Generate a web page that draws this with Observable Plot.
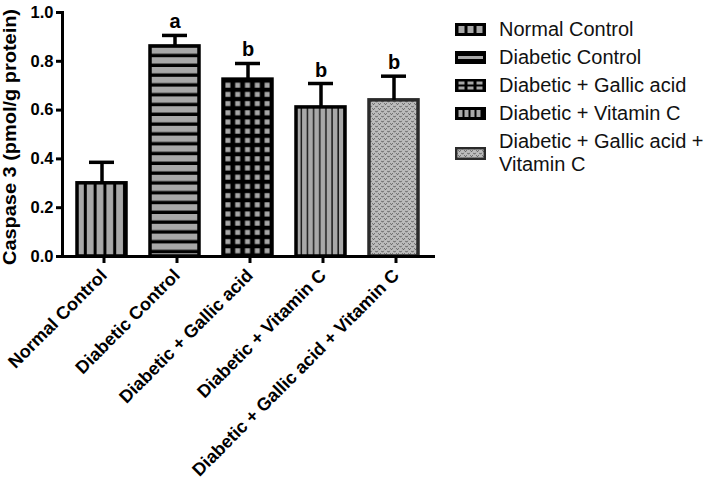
<!DOCTYPE html>
<html><head><meta charset="utf-8">
<script src="https://cdn.jsdelivr.net/npm/d3@7"></script>
<script src="https://cdn.jsdelivr.net/npm/@observablehq/plot@0.6"></script>
<style>
body{margin:0;background:#fff;font-family:"Liberation Sans",Arial,sans-serif;}
#wrap{position:relative;width:709px;height:484px;overflow:hidden;}
#chart{position:absolute;left:0;top:0;}
#legend{position:absolute;left:455px;top:15px;}
.row{display:flex;align-items:center;min-height:28px;}
.row.multi{margin-top:3px;}
.row svg{flex:none;margin-right:13px;}
.row span{font-size:20px;line-height:23px;color:#111;white-space:nowrap;}
</style></head><body>
<div id="wrap"><div id="chart"></div><div id="legend"></div></div>
<script>
const groups = ["Normal Control", "Diabetic Control", "Diabetic + Gallic acid", "Diabetic + Vitamin C", "Diabetic + Gallic acid + Vitamin C"];
const legendLabels = ["Normal Control", "Diabetic Control", "Diabetic + Gallic acid", "Diabetic + Vitamin C", "Diabetic + Gallic acid +<br>Vitamin C"];
const means = [0.300, 0.861, 0.725, 0.611, 0.640];
const errors = [0.086, 0.045, 0.066, 0.098, 0.099];
const letters = ["", "a", "b", "b", "b"];
const yTicks = [0, 0.2, 0.4, 0.6, 0.8, 1.0];
const yLabel = "Caspase 3 (pmol/g protein)";
const patternIds = ["pNC", "pDC", "pGA", "pVC", "pGV"];
const strokes = ["#000", "#000", "#000", "#000", "#2a2a2a"];

const rows = groups.map((g, i) => ({
  group: g, mean: means[i], top: means[i] + errors[i], letter: letters[i],
  fill: `url(#${patternIds[i]})`, stroke: strokes[i]
}));

const font = "'Liberation Sans', Arial, sans-serif";
const plot = Plot.plot({
  width: 440, height: 484,
  marginLeft: 62, marginRight: 7, marginTop: 12, marginBottom: 228,
  style: {fontFamily: font, background: "transparent", color: "#000"},
  x: {domain: groups, paddingInner: 0.329, paddingOuter: 0.18, label: null},
  y: {domain: [0, 1], label: null},
  color: {type: "identity"},
  marks: [
    Plot.barY(rows, {x: "group", y: "mean", fill: "fill", stroke: "stroke", strokeWidth: 3.5}),
    Plot.ruleX(rows, {x: "group", y1: "mean", y2: "top", stroke: "#000", strokeWidth: 3.5}),
    Plot.tickY(rows, {x: "group", y: "top", stroke: "#000", strokeWidth: 3.5, insetLeft: 12, insetRight: 12}),
    Plot.text(rows, {x: "group", y: "top", text: "letter", dy: -7, lineAnchor: "bottom", fontSize: 20, fontWeight: "bold", fill: "#000"}),
    Plot.axisY({ticks: yTicks, tickFormat: d3.format(".1f"), tickSize: 6, tickPadding: 3, strokeWidth: 3, fontSize: 16.5, fontWeight: "bold", label: null}),
    Plot.axisX({tickSize: 7, tickRotate: -45, tickPadding: 9, dx: 2, strokeWidth: 3, fontSize: 18, fontWeight: "bold", label: null}),
    Plot.frame({anchor: "left", strokeWidth: 3}),
    Plot.frame({anchor: "bottom", strokeWidth: 3})
  ]
});
document.getElementById("chart").appendChild(plot);

// patterns aligned to bars via the plot's scales
const xs = plot.scale("x"), ys = plot.scale("y");
const bw = xs.bandwidth;
const svg = d3.select(plot);
const defs = svg.insert("defs", ":first-child");
const gray = "#a8a8a8";

// Normal Control: vertical stripes
{
  const x = xs.apply(groups[0]), w = bw / 5;
  const p = defs.append("pattern").attr("id", "pNC").attr("patternUnits", "userSpaceOnUse")
    .attr("x", x).attr("y", 0).attr("width", w).attr("height", 10);
  p.append("rect").attr("width", w).attr("height", 10).attr("fill", gray);
  p.append("rect").attr("x", w - 3).attr("width", 3).attr("height", 10).attr("fill", "#000");
}
// Diabetic Control: horizontal stripes
{
  const x = xs.apply(groups[1]), h = 9.8;
  const p = defs.append("pattern").attr("id", "pDC").attr("patternUnits", "userSpaceOnUse")
    .attr("x", x).attr("y", ys.apply(means[1]) + 1.5).attr("width", 10).attr("height", h);
  p.append("rect").attr("width", 10).attr("height", h).attr("fill", gray);
  p.append("rect").attr("y", 6.4).attr("width", 10).attr("height", 3.4).attr("fill", "#000");
}
// Gallic acid: black grid with gray squares
{
  const x = xs.apply(groups[2]), w = bw / 5, h = 9.2;
  const p = defs.append("pattern").attr("id", "pGA").attr("patternUnits", "userSpaceOnUse")
    .attr("x", x).attr("y", ys.apply(means[2]) + 1.5).attr("width", w).attr("height", h);
  p.append("rect").attr("width", w).attr("height", h).attr("fill", "#000");
  p.append("rect").attr("x", (w - 5) / 2).attr("y", (h - 5) / 2).attr("width", 5).attr("height", 5).attr("fill", gray);
}
// Vitamin C: thin vertical lines
{
  const x = xs.apply(groups[3]), w = bw / 8;
  const p = defs.append("pattern").attr("id", "pVC").attr("patternUnits", "userSpaceOnUse")
    .attr("x", x).attr("y", 0).attr("width", w).attr("height", 10);
  p.append("rect").attr("width", w).attr("height", 10).attr("fill", gray);
  p.append("rect").attr("x", w - 1.4).attr("width", 1.4).attr("height", 10).attr("fill", "#111");
}
// Gallic + Vitamin C: fine textured pattern
function texture(id, x0) {
  const p = defs.append("pattern").attr("id", id).attr("patternUnits", "userSpaceOnUse")
    .attr("x", x0).attr("y", 0).attr("width", 6).attr("height", 5);
  p.append("rect").attr("width", 6).attr("height", 5).attr("fill", "#bcbcbc");
  p.append("path").attr("d", "M0.3,0.8 L1.5,2.2 L2.7,0.8 M3.3,3.3 L4.5,4.7 L5.7,3.3")
    .attr("fill", "none").attr("stroke", "#555").attr("stroke-width", 1);
}
texture("pGV", xs.apply(groups[4]));
texture("pGVs", 0);

// y axis title
svg.append("text")
  .attr("transform", `translate(16,${(ys.apply(0) + ys.apply(1)) / 2 + 3}) rotate(-90)`)
  .attr("text-anchor", "middle")
  .attr("font-family", font).attr("font-weight", "bold").attr("font-size", 19)
  .attr("textLength", 256).attr("lengthAdjust", "spacingAndGlyphs")
  .attr("fill", "#000")
  .text(yLabel);

// legend
const swatches = [
  `<rect width="31" height="13" fill="#000"/><rect x="3.5" y="3" width="6" height="7" fill="${gray}"/><rect x="12.5" y="3" width="6" height="7" fill="${gray}"/><rect x="21.5" y="3" width="6" height="7" fill="${gray}"/>`,
  `<rect width="31" height="13" fill="#000"/><rect x="3" y="5" width="25" height="3" fill="${gray}"/>`,
  `<rect width="31" height="13" fill="#000"/>` + [3.5, 12.5, 21.5].map(x => `<rect x="${x}" y="2.5" width="6" height="3" fill="${gray}"/><rect x="${x}" y="7.5" width="6" height="3" fill="${gray}"/>`).join(""),
  `<rect width="31" height="13" fill="#000"/>` + [3.5, 9.5, 15.5, 21.5].map(x => `<rect x="${x}" y="3" width="4" height="7" fill="${gray}"/>`).join(""),
  `<rect x="1.2" y="1.2" width="28.6" height="10.6" fill="url(#pGVs)" stroke="#2a2a2a" stroke-width="2.4"/>`
];
const legend = document.getElementById("legend");
legendLabels.forEach((lab, i) => {
  const r = document.createElement("div");
  r.className = "row" + (lab.includes("<br>") ? " multi" : "");
  r.innerHTML = `<svg width="31" height="13" viewBox="0 0 31 13">${swatches[i]}</svg><span>${lab}</span>`;
  legend.appendChild(r);
});
</script>
</body></html>
